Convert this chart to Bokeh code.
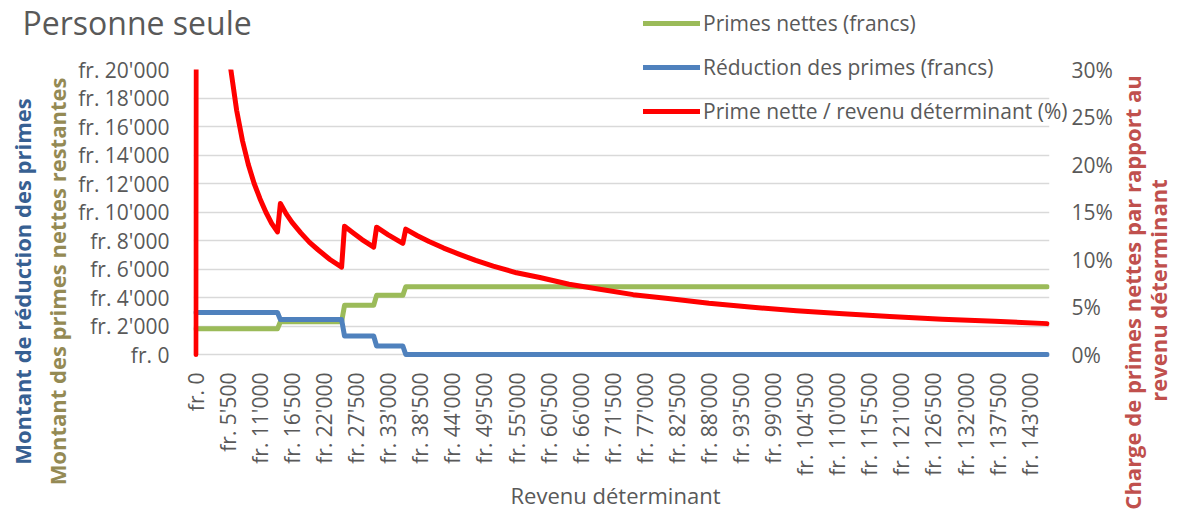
import math
from bokeh.plotting import figure
from bokeh.layouts import column
from bokeh.models import (Range1d, LinearAxis, FixedTicker, Label, Legend,
                          LegendItem, ColumnDataSource)
from bokeh.embed import file_html
from bokeh.resources import INLINE

# ---------------- data ----------------
x_ticks = [0, 5500, 11000, 16500, 22000, 27500, 33000, 38500, 44000, 49500,
           55000, 60500, 66000, 71500, 77000, 82500, 88000, 93500, 99000,
           104500, 110000, 115500, 121000, 126500, 132000, 137500, 143000]
x_tick_labels = ["fr. 0", "fr. 5'500", "fr. 11'000", "fr. 16'500", "fr. 22'000",
                 "fr. 27'500", "fr. 33'000", "fr. 38'500", "fr. 44'000",
                 "fr. 49'500", "fr. 55'000", "fr. 60'500", "fr. 66'000",
                 "fr. 71'500", "fr. 77'000", "fr. 82'500", "fr. 88'000",
                 "fr. 93'500", "fr. 99'000", "fr. 104'500", "fr. 110'000",
                 "fr. 115'500", "fr. 121'000", "fr. 126'500", "fr. 132'000",
                 "fr. 137'500", "fr. 143'000"]
left_ticks = [0, 2000, 4000, 6000, 8000, 10000, 12000, 14000, 16000, 18000, 20000]
left_tick_labels = ["fr. 0", "fr. 2'000", "fr. 4'000", "fr. 6'000", "fr. 8'000",
                    "fr. 10'000", "fr. 12'000", "fr. 14'000", "fr. 16'000",
                    "fr. 18'000", "fr. 20'000"]
pct_ticks = [0, 5, 10, 15, 20, 25, 30]
pct_tick_labels = ["0%", "5%", "10%", "15%", "20%", "25%", "30%"]

# step series (francs)
step_income = [0, 14000, 14500, 25000, 25500, 30500, 31000, 35500, 36000, 146000]
net_premium = [1800, 1800, 2300, 2300, 3450, 3450, 4150, 4150, 4750, 4750]
reduction = [2950, 2950, 2450, 2450, 1300, 1300, 600, 600, 0, 0]

# ratio series (%)
ratio_income = [0, 500, 1000, 2000, 3000, 4000, 5000, 6000, 7000, 8000, 9000,
                10000, 11000, 12000, 13000, 14000, 14500, 15500, 16500, 18000,
                19500, 21000, 23000, 25000, 25500, 27000, 28500, 30500, 31000,
                33000, 35500, 36000, 38000, 40000, 42500, 45000, 48000, 51000,
                55000, 59000, 64000, 69000, 75000, 81000, 88000, 95000, 103000,
                111000, 119000, 128000, 137000, 146000]
ratio_pct = [0, 360, 180, 90, 60, 45, 36, 30, 25.7, 22.5, 20,
             18, 16.4, 15, 13.8, 12.9, 15.9, 14.8, 13.9, 12.8,
             11.8, 11.0, 10.0, 9.2, 13.5, 12.8, 12.1, 11.3, 13.4,
             12.6, 11.7, 13.2, 12.5, 11.9, 11.2, 10.6, 9.9, 9.3,
             8.6, 8.1, 7.4, 6.9, 6.3, 5.9, 5.4, 5.0, 4.6,
             4.3, 4.0, 3.7, 3.5, 3.25]

series_labels = ["Primes nettes (francs)", "Réduction des primes (francs)",
                 "Prime nette / revenu déterminant (%)"]
chart_title = "Personne seule"
x_title = "Revenu déterminant"
left_title_1 = "Montant de réduction des primes"
left_title_2 = "Montant des primes nettes restantes"
right_title_1 = "Charge de primes nettes par rapport au"
right_title_2 = "revenu déterminant"

# ---------------- styling ----------------
FONT = "Open Sans"
GREY = "#595959"
GREEN = "#9BBB59"
BLUE = "#4F81BD"
RED = "#FF0000"
W, H = 1181, 510

p = figure(width=W, height=H,
           x_range=Range1d(-400, 146400), y_range=Range1d(-210.5, 20000),
           output_backend="svg", toolbar_location=None,
           min_border_left=193, min_border_right=132,
           min_border_top=69, min_border_bottom=153)
p.frame_align = False
p.extra_y_ranges = {"pct": Range1d(-0.31575, 30)}
p.outline_line_color = None
p.background_fill_color = "white"
p.border_fill_color = "white"

p.xgrid.visible = False
p.ygrid.ticker = FixedTicker(ticks=left_ticks)
p.ygrid.grid_line_color = "#d9d9d9"
p.ygrid.grid_line_width = 1.5


def style_axis(ax):
    ax.axis_line_color = None
    ax.major_tick_line_color = None
    ax.minor_tick_line_color = None
    ax.major_tick_out = 0
    ax.major_tick_in = 0
    ax.major_label_text_font = FONT
    ax.major_label_text_font_size = "21px"
    ax.major_label_text_color = GREY


xa = p.xaxis[0]
style_axis(xa)
xa.ticker = FixedTicker(ticks=x_ticks)
xa.major_label_overrides = {t: l for t, l in zip(x_ticks, x_tick_labels)}
xa.major_label_orientation = math.pi / 2
xa.major_label_standoff = 15

ya = p.yaxis[0]
style_axis(ya)
ya.ticker = FixedTicker(ticks=left_ticks)
ya.major_label_overrides = {t: l for t, l in zip(left_ticks, left_tick_labels)}
ya.major_label_standoff = 24

ra = LinearAxis(y_range_name="pct")
style_axis(ra)
ra.ticker = FixedTicker(ticks=pct_ticks)
ra.major_label_overrides = {t: l for t, l in zip(pct_ticks, pct_tick_labels)}
ra.major_label_standoff = 22
p.add_layout(ra, "right")

src_steps = ColumnDataSource(dict(x=step_income, net=net_premium, red=reduction))
src_ratio = ColumnDataSource(dict(x=ratio_income, y=ratio_pct))

line_kw = dict(line_width=5, line_join="round", line_cap="round")
p.line("x", "net", source=src_steps, line_color=GREEN, **line_kw)
p.line("x", "red", source=src_steps, line_color=BLUE, **line_kw)
p.line("x", "y", source=src_ratio, y_range_name="pct", line_color=RED, **line_kw)

# ---------- transparent overlay for titles and legend (not clipped) ----------
o = figure(width=W, height=H, x_range=Range1d(0, W), y_range=Range1d(H, 0),
           output_backend="svg", toolbar_location=None,
           x_axis_type=None, y_axis_type=None,
           min_border_left=0, min_border_right=0,
           min_border_top=0, min_border_bottom=0)
o.frame_align = False
o.outline_line_color = None
o.background_fill_alpha = 0
o.border_fill_alpha = 0
o.xgrid.visible = False
o.ygrid.visible = False
o.margin = (-H, 0, 0, 0)

# legend-only renderers (a single NaN point draws nothing)
nan_src = ColumnDataSource(dict(x=[float("nan")], y=[float("nan")]))
lg = o.line("x", "y", source=nan_src, line_color=GREEN, **line_kw)
lb = o.line("x", "y", source=nan_src, line_color=BLUE, **line_kw)
lr = o.line("x", "y", source=nan_src, line_color=RED, **line_kw)

legend = Legend(items=[LegendItem(label=series_labels[0], renderers=[lg]),
                       LegendItem(label=series_labels[1], renderers=[lb]),
                       LegendItem(label=series_labels[2], renderers=[lr])],
                location=(643, 384), orientation="vertical",
                background_fill_alpha=0, border_line_alpha=0,
                padding=0, margin=0, spacing=14,
                glyph_width=57, glyph_height=30, label_height=30,
                label_standoff=3, label_text_font=FONT,
                label_text_font_size="21px", label_text_color=GREY)
o.add_layout(legend)


def add_label(text, x, y, size, color, bold=False, angle=0.0,
              align="center", baseline="middle"):
    o.add_layout(Label(x=x, y=y, text=text, text_font=FONT, text_font_size=size,
                       text_color=color,
                       text_font_style="bold" if bold else "normal",
                       angle=angle, text_align=align, text_baseline=baseline))


add_label(chart_title, 22, 22, "32px", GREY, align="left")
add_label(left_title_1, 21, 281, "22px", "#376092", True, math.pi / 2)
add_label(left_title_2, 56, 281, "22px", "#948A54", True, math.pi / 2)
add_label(right_title_1, 1131, 292, "22px", "#C0504D", True, math.pi / 2)
add_label(right_title_2, 1157, 290, "22px", "#C0504D", True, math.pi / 2)
add_label(x_title, 615, 494, "22px", GREY)

layout = column(p, o, spacing=0)
open("out.html", "w").write(file_html(layout, INLINE))
